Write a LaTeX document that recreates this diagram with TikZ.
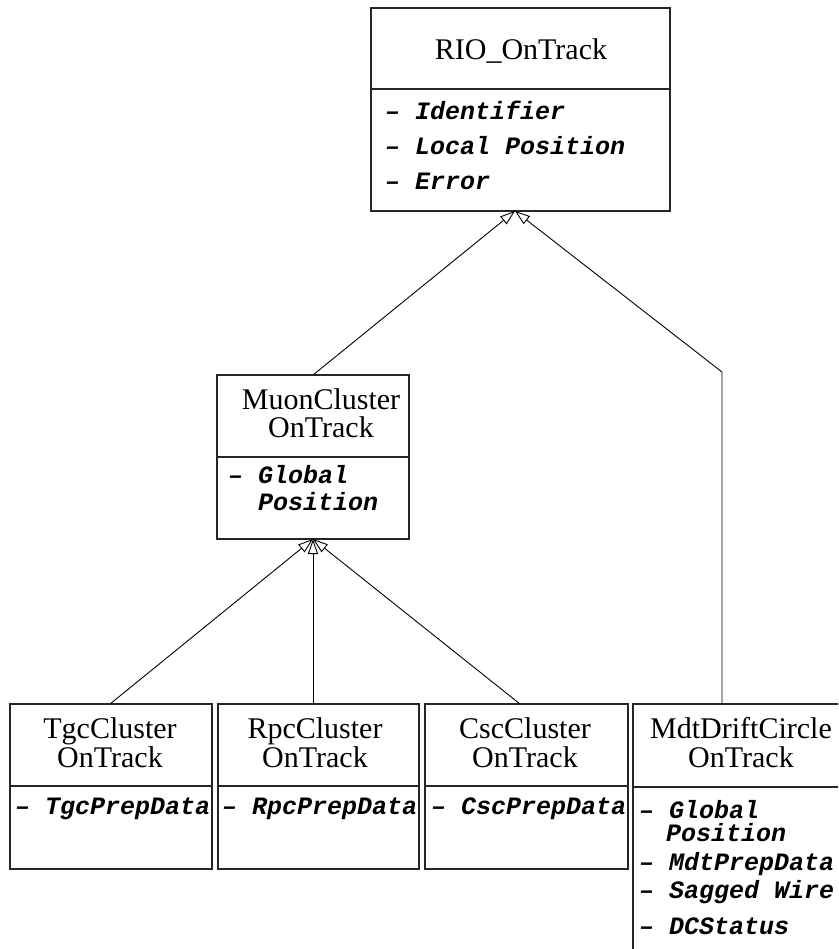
\documentclass[tikz,border=0pt]{standalone}
\usepackage{fontspec}
\setmainfont{Liberation Serif}
\newfontfamily\attrfont{Liberation Mono}
\usetikzlibrary{arrows.meta}

\tikzset{
  classbox/.style={draw=black!85, line width=1.3pt, rectangle, inner sep=0pt, outer sep=0pt, fill=white},
  divider/.style={draw=black!85, line width=1.2pt},
  % two-line titles are placed by the baseline of their last line
  title/.style={anchor=base, inner sep=0pt, align=center, font=\fontsize{30}{29}\selectfont},
  attr/.style={anchor=base west, inner sep=0pt, font=\attrfont\bfseries\itshape\fontsize{25}{25}\selectfont},
  inherit/.style={draw=black, line width=0.9pt, -{Triangle[open, length=15pt, width=10pt, line width=0.9pt]}}
}

\begin{document}
\begin{tikzpicture}[x=1pt, y=-1pt]
\useasboundingbox (0,0) rectangle (838,949);
\clip (0,0) rectangle (838,949);
\fill[white] (0,0) rectangle (838,949);

% RIO_OnTrack
\node[classbox, minimum width=299pt, minimum height=203pt] (rio) at (520.5,109.5) {};
\draw[divider] (371,89) -- (670,89);
\node[title] (rioT) at (521,60) {RIO\_OnTrack};
\node[attr] (rioA1) at (385,120) {– Identifier};
\node[attr] (rioA2) at (385,155) {– Local Position};
\node[attr] (rioA3) at (385,190) {– Error};

% MuonClusterOnTrack
\node[classbox, minimum width=192pt, minimum height=164pt] (muon) at (313,457) {};
\draw[divider] (217,457) -- (409,457);
\node[title, font=\fontsize{30}{28}\selectfont] (muonT) at (321,437) {MuonCluster\\OnTrack};
\node[attr] (muonA1) at (228,483) {– Global};
\node[attr] (muonA2) at (258,510) {Position};

% TgcClusterOnTrack
\node[classbox, minimum width=202pt, minimum height=165pt] (tgc) at (111,786.5) {};
\draw[divider] (10,786) -- (212,786);
\node[title] (tgcT) at (110,767) {TgcCluster\\OnTrack};
\node[attr] (tgcA1) at (15,814) {– TgcPrepData};

% RpcClusterOnTrack
\node[classbox, minimum width=201pt, minimum height=165pt] (rpc) at (318.5,786.5) {};
\draw[divider] (218,786) -- (419,786);
\node[title] (rpcT) at (315,767) {RpcCluster\\OnTrack};
\node[attr] (rpcA1) at (222,814) {– RpcPrepData};

% CscClusterOnTrack
\node[classbox, minimum width=203pt, minimum height=165pt] (csc) at (526.5,786.5) {};
\draw[divider] (425,786) -- (628,786);
\node[title] (cscT) at (525,767) {CscCluster\\OnTrack};
\node[attr] (cscA1) at (431,814) {– CscPrepData};

% MdtDriftCircleOnTrack (runs past the right and bottom edges)
\node[classbox, minimum width=227pt, minimum height=276pt] (mdt) at (746.5,842) {};
\draw[divider] (633,787) -- (860,787);
\node[title] (mdtT) at (741,767) {MdtDriftCircle\\OnTrack};
\node[attr] (mdtA1) at (639,818) {– Global};
\node[attr] (mdtA2) at (666,841) {Position};
\node[attr] (mdtA3) at (639,870) {– MdtPrepData};
\node[attr] (mdtA4) at (639,898) {– Sagged Wire};
\node[attr] (mdtA5) at (639,934) {– DCStatus};

% generalisation connectors
\coordinate (rioTip) at ([xshift=-5.5pt]rio.south);
\coordinate (mdtTop) at (722,704);
\coordinate (mdtBend) at (722,372);
\coordinate (rpcTop) at (muon.south |- rpc.north);
\coordinate (cscTop) at ([xshift=-6.5pt]csc.north);
\coordinate (tgcTop) at ([xshift=-1pt]tgc.north);

\draw[inherit] (muon.north) -- (rioTip);
\draw[inherit] (mdtTop) -- (mdtBend) -- (rioTip);
\draw[inherit] (tgcTop) -- (muon.south);
\draw[inherit] (rpcTop) -- (muon.south);
\draw[inherit] (cscTop) -- (muon.south);
\end{tikzpicture}
\end{document}
